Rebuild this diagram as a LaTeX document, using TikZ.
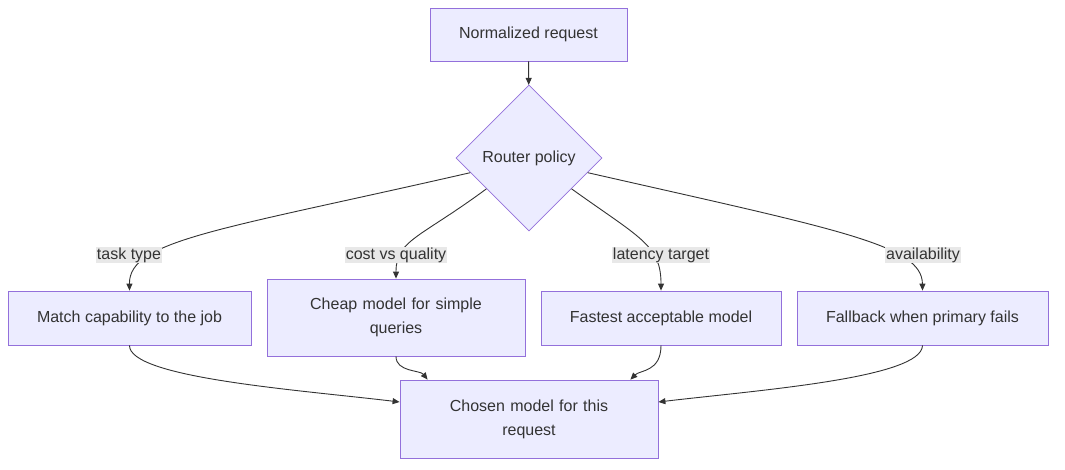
\documentclass[tikz,border=0pt]{standalone}
\usepackage{fontspec}
\setmainfont{Liberation Sans}
\usetikzlibrary{shapes.geometric,arrows.meta,calc}
\definecolor{nfill}{HTML}{ECECFF}
\definecolor{nline}{HTML}{9370DB}
\definecolor{ink}{HTML}{333333}
\definecolor{lbl}{HTML}{E8E8E8}
\begin{document}
\begin{tikzpicture}[x=1pt,y=-1pt,
  box/.style={draw=nline,fill=nfill,line width=0.8pt,inner sep=0pt,align=center,text=ink,font=\fontsize{16}{24}\selectfont},
  lab/.style={fill=lbl,inner sep=1pt,text=ink,font=\fontsize{16}{19}\selectfont},
  edge/.style={draw=ink,line width=0.9pt,-{Triangle[length=7pt,width=6pt]}}]
\useasboundingbox (0,0) rectangle (1065,470);
\node[box,minimum width=197pt,minimum height=53pt] (n) at (528.5,34.5) {Normalized request};
\node[box,diamond,minimum width=146pt,minimum height=146pt] (r) at (529,158) {Router policy};
\node[box,minimum width=243pt,minimum height=54pt] (a) at (129.5,318) {Match capability to the job};
\node[box,minimum width=258pt,minimum height=77pt,text width=190pt] (b) at (396,317.5) {Cheap model for simple\\queries};
\node[box,minimum width=240pt,minimum height=54pt] (c) at (661,318) {Fastest acceptable model};
\node[box,minimum width=251pt,minimum height=54pt] (d) at (922.5,318) {Fallback when primary fails};
\node[box,minimum width=258pt,minimum height=78pt,text width=190pt] (e) at (529,419) {Chosen model for this\\request};
\draw[edge] (n) -- (r);
\draw[edge] ($(r.west)!0.2!(r.south)$) .. controls (220,230) and (129,240) .. (a.north);
\draw[edge] ($(r.west)!0.42!(r.south)$) .. controls (420,238) and (396,240) .. (b.north);
\draw[edge] ($(r.east)!0.42!(r.south)$) .. controls (640,238) and (661,245) .. (c.north);
\draw[edge] ($(r.east)!0.2!(r.south)$) .. controls (840,230) and (922,245) .. (d.north);
\draw[edge] (a.south) .. controls (129,378) and (300,390) .. ($(e.west)+(0,-17)$);
\draw[edge] (b.south) .. controls (396,372) and (420,370) .. ($(e.north west)+(28,0)$);
\draw[edge] (c.south) .. controls (661,372) and (640,370) .. ($(e.north east)+(-28,0)$);
\draw[edge] (d.south) .. controls (922,378) and (760,390) .. ($(e.east)+(0,-17)$);
\node[lab] (l1) at (129,255) {task type};
\node[lab] (l2) at (396,255) {cost vs quality};
\node[lab] (l3) at (661,255) {latency target};
\node[lab] (l4) at (923,255) {availability};
\end{tikzpicture}
\end{document}
